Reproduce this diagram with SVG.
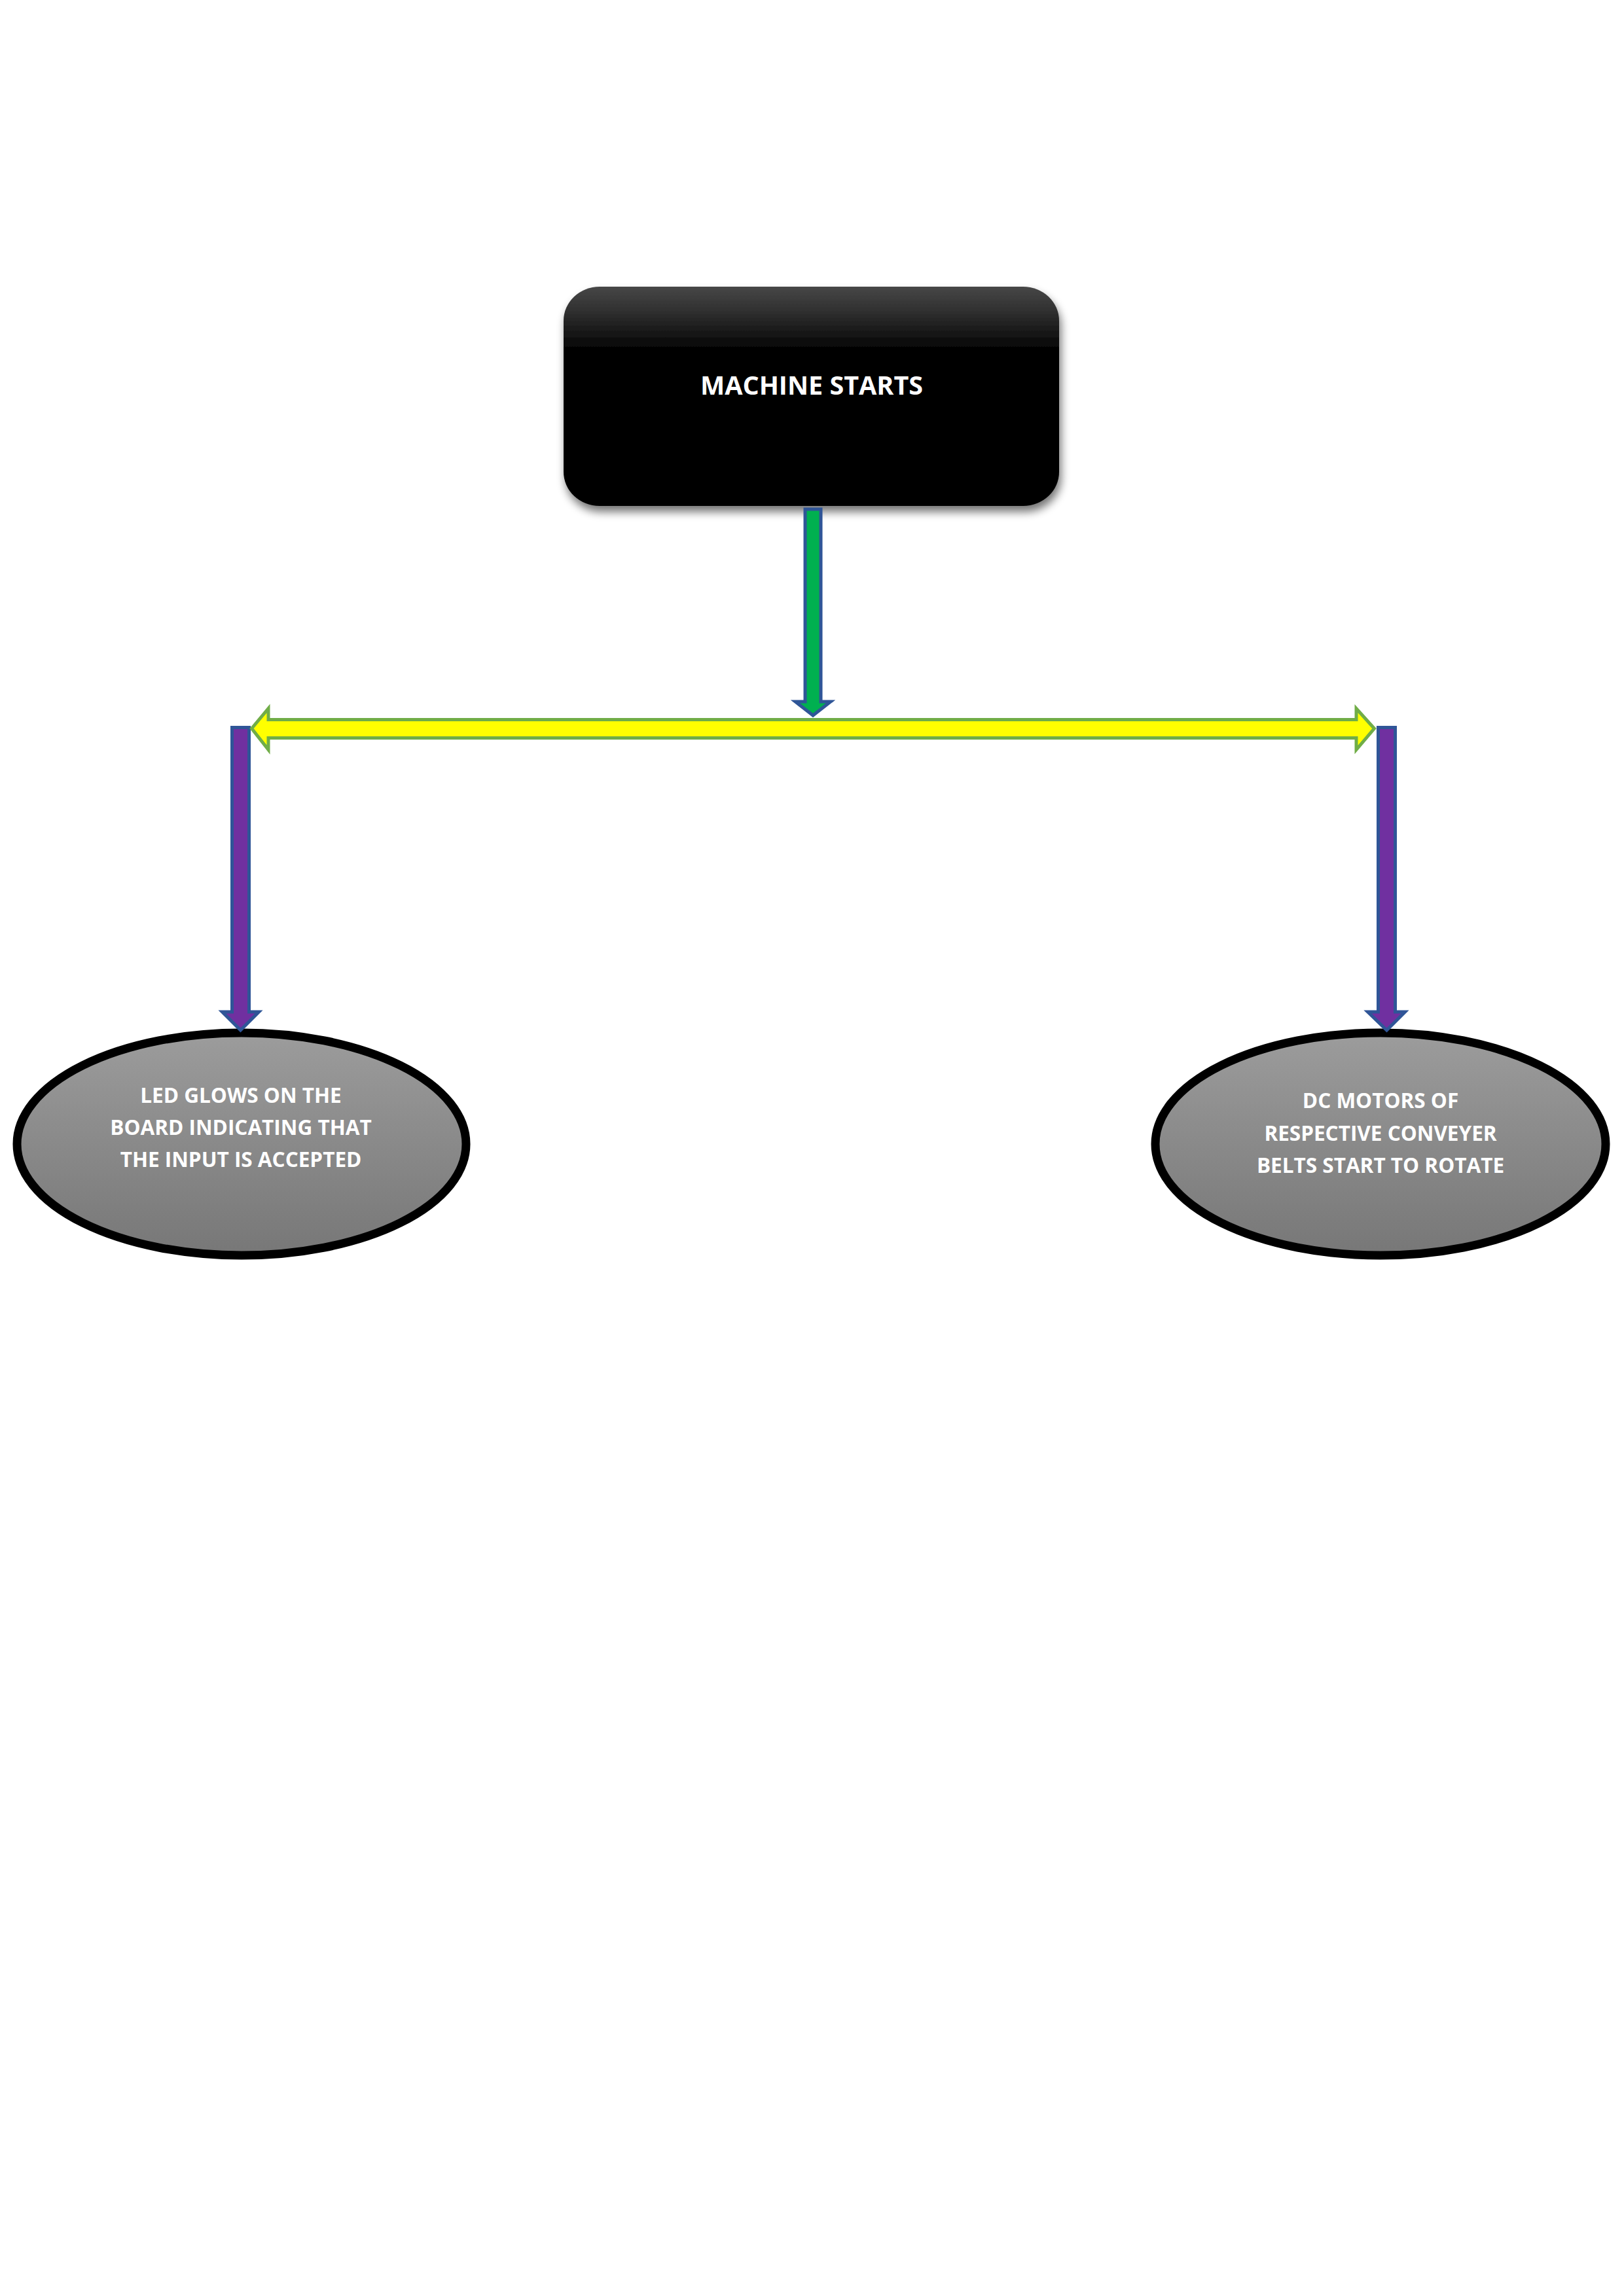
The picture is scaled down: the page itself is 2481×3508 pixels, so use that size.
<svg xmlns="http://www.w3.org/2000/svg" width="2481" height="3508" viewBox="0 0 2481 3508">
<style>
.lbl{font-family:"Open Sans","Noto Sans","Liberation Sans",sans-serif;font-weight:bold;fill:#ffffff;text-anchor:middle}
.big{font-size:39.5px}
.sm{font-size:31.5px}
.ell{fill:url(#gEll);stroke:#000000;stroke-width:13}
.vbar{fill:#7030A0;stroke:#2F5597;stroke-width:5;stroke-linejoin:miter}
</style>
<defs>
<linearGradient id="gBox" x1="0" y1="0" x2="0" y2="1">
<stop offset="0" stop-color="#474747"/>
<stop offset="0.12" stop-color="#2e2e2e"/>
<stop offset="0.3" stop-color="#000000"/>
<stop offset="1" stop-color="#000000"/>
</linearGradient>
<linearGradient id="gEll" x1="0" y1="0" x2="0" y2="1">
<stop offset="0" stop-color="#9c9c9c"/>
<stop offset="1" stop-color="#777777"/>
</linearGradient>
<filter id="shadow" x="-10%" y="-10%" width="120%" height="130%">
<feGaussianBlur in="SourceAlpha" stdDeviation="7"/>
<feOffset dx="3" dy="9" result="b"/>
<feComponentTransfer><feFuncA type="linear" slope="0.55"/></feComponentTransfer>
<feMerge><feMergeNode/><feMergeNode in="SourceGraphic"/></feMerge>
</filter>
</defs>
<rect width="2481" height="3508" fill="#ffffff"/>
<g id="node-machine-starts">
<rect x="861" y="438" width="757" height="335" rx="55" ry="52" fill="url(#gBox)" filter="url(#shadow)"/>
<text class="lbl big" x="1240" y="603">MACHINE STARTS</text>
</g>
<g id="node-led">
<ellipse class="ell" cx="369" cy="1748" rx="343" ry="170"/>
<text class="lbl sm" x="368" y="1685">LED GLOWS ON THE</text>
<text class="lbl sm" x="368" y="1734">BOARD INDICATING THAT</text>
<text class="lbl sm" x="368" y="1783">THE INPUT IS ACCEPTED</text>
</g>
<g id="node-dc-motors">
<ellipse class="ell" cx="2109" cy="1748" rx="344" ry="170"/>
<text class="lbl sm" x="2109" y="1693">DC MOTORS OF</text>
<text class="lbl sm" x="2109" y="1743">RESPECTIVE CONVEYER</text>
<text class="lbl sm" x="2109" y="1792">BELTS START TO ROTATE</text>
</g>
<g id="connectors">
<path d="M1230 778 H1254 V1072 H1269 L1242 1093 L1215 1072 H1230 Z" fill="#00B050" stroke="#2F5597" stroke-width="5"/>
<path class="vbar" d="M354.5 1111.5 H380.5 V1546 H395.5 L367.5 1574 L339.5 1546 H354.5 Z"/>
<path class="vbar" d="M2105.5 1111.5 H2131.5 V1546 H2146.5 L2118.5 1574 L2089.5 1546 H2105.5 Z"/>
<path d="M384.5 1113 L410 1082.5 V1099.5 H2072 V1082.5 L2099.5 1113 L2072 1145.5 V1127.5 H410 V1145.5 Z" fill="#FFFF00" stroke="#70AD47" stroke-width="5"/>
</g>
</svg>
